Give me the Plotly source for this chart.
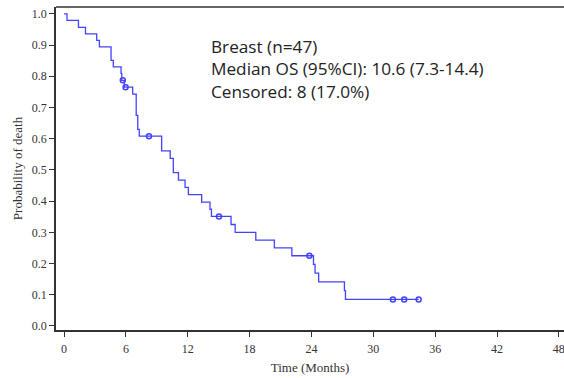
import plotly.graph_objects as go

# Kaplan-Meier step curve
step_time = [0, 0.29, 1.4, 2.08, 3.17, 3.43, 4.56, 4.78, 5.53, 5.6, 5.85, 6.66, 7.0, 7.15, 7.3,
             9.47, 10.3, 10.6, 11.1, 11.74, 12.06, 13.35, 14.16, 14.3, 16.2, 16.6, 18.6, 20.4,
             22.1, 24.2, 24.35, 24.7, 27.2, 27.3, 34.4]
step_surv = [1.0, 0.979, 0.957, 0.936, 0.915, 0.894, 0.851, 0.830, 0.809, 0.787, 0.765, 0.743,
             0.675, 0.630, 0.608, 0.561, 0.537, 0.491, 0.467, 0.444, 0.421, 0.397, 0.374, 0.351,
             0.325, 0.300, 0.275, 0.250, 0.225, 0.197, 0.169, 0.141, 0.113, 0.085, 0.085]

censor_time = [5.7, 5.97, 8.24, 15.03, 23.8, 31.9, 33.0, 34.4]
censor_surv = [0.787, 0.765, 0.608, 0.351, 0.225, 0.085, 0.085, 0.085]

x_ticks = [0, 6, 12, 18, 24, 30, 36, 42, 48]
y_ticks = [0.0, 0.1, 0.2, 0.3, 0.4, 0.5, 0.6, 0.7, 0.8, 0.9, 1.0]

info_lines = ["Breast (n=47)", "Median OS (95%CI): 10.6 (7.3-14.4)", "Censored: 8 (17.0%)"]

blue = "#4343ff"
fig = go.Figure()
fig.add_trace(go.Scatter(x=step_time, y=step_surv, mode="lines", line=dict(color=blue, width=1.3, shape="hv"),
                         hoverinfo="skip", showlegend=False))
fig.add_trace(go.Scatter(x=censor_time, y=censor_surv, mode="markers",
                         marker=dict(symbol="circle-open", size=5, color=blue, line=dict(width=1.5, color=blue)),
                         showlegend=False))

fig.add_annotation(x=0.303, y=0.808, xref="paper", yref="paper", xanchor="left", yanchor="middle", align="left",
                   text="<br>".join(info_lines), showarrow=False, borderpad=0,
                   font=dict(family="Open Sans, Noto Sans, sans-serif", size=17.2, color="#222"))

# top frame line
fig.add_shape(type="line", xref="paper", yref="paper", x0=0, x1=1, y0=1, y1=1,
              line=dict(color="#333", width=1.5))

axis_common = dict(showgrid=False, zeroline=False, showline=True, linecolor="#333", linewidth=1.5,
                   ticks="outside", ticklen=5, tickwidth=1.2, tickcolor="#333",
                   tickfont=dict(family="Liberation Serif, Times New Roman, serif", size=12, color="#333"))

fig.update_layout(
    width=564, height=378,
    margin=dict(l=56, r=0, t=7, b=48),
    paper_bgcolor="white", plot_bgcolor="white",
    xaxis=dict(range=[-0.78, 48.5], tickvals=x_ticks, ticktext=[str(v) for v in x_ticks],
               ticklabeloverflow="allow", ticklabelstandoff=2,
               title=dict(text="Time (Months)", standoff=8,
                          font=dict(family="Liberation Serif, Times New Roman, serif", size=13, color="#333")),
               **axis_common),
    yaxis=dict(range=[-0.013, 1.022], tickvals=y_ticks, ticktext=[f"{v:.1f}" for v in y_ticks],
               title=dict(text="Probability of death", standoff=6,
                          font=dict(family="Liberation Serif, Times New Roman, serif", size=13, color="#333")),
               **axis_common),
)

fig.write_html("out.html")
